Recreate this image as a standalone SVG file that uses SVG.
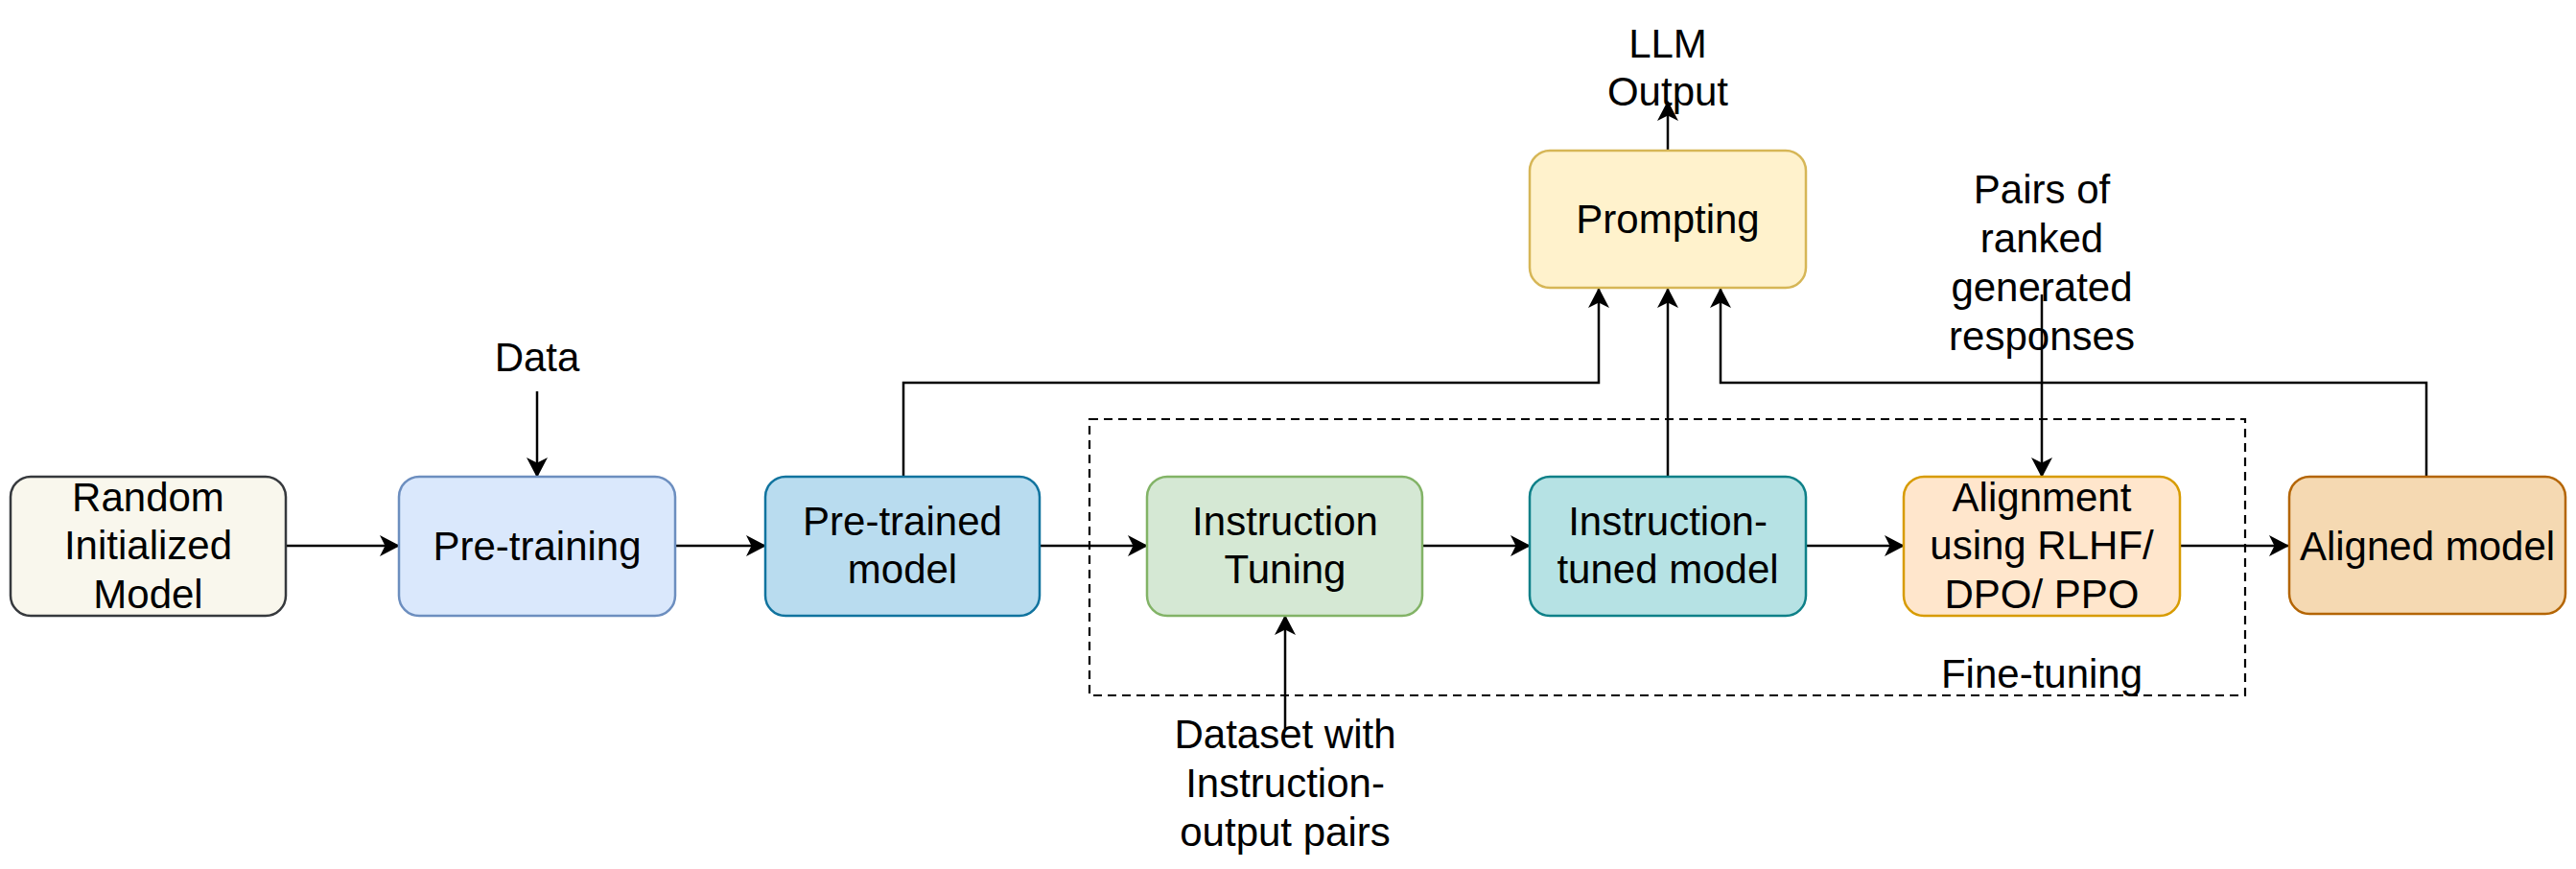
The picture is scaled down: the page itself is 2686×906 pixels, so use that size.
<svg xmlns="http://www.w3.org/2000/svg" width="2686" height="906" viewBox="0 0 2686 906">
<style>
text{font-family:"Liberation Sans",Arial,Helvetica,sans-serif;font-size:42px;fill:#000;text-anchor:middle}
.box{stroke-width:2.5}
.c{fill:none;stroke:#000;stroke-width:2.5}
</style>
<defs>
<marker id="ah" markerUnits="userSpaceOnUse" markerWidth="22" markerHeight="24" viewBox="0 0 22 24" refX="20" refY="12" orient="auto">
<path d="M0,1 L21,12 L0,23 L5.5,12 Z" fill="#000"/>
</marker>
</defs>
<rect x="0" y="0" width="2686" height="906" fill="#fff"/>
<g id="finetuning">
<rect x="1136" y="437" width="1205" height="288" fill="none" stroke="#000" stroke-width="2.2" stroke-dasharray="9 6"/>
<text x="2129" y="717">Fine-tuning</text>
</g>
<g id="connectors">
<line class="c" x1="298" y1="569" x2="416" y2="569" marker-end="url(#ah)"/>
<line class="c" x1="704" y1="569" x2="798" y2="569" marker-end="url(#ah)"/>
<line class="c" x1="1084" y1="569" x2="1196" y2="569" marker-end="url(#ah)"/>
<line class="c" x1="1483" y1="569" x2="1595" y2="569" marker-end="url(#ah)"/>
<line class="c" x1="1883" y1="569" x2="1985" y2="569" marker-end="url(#ah)"/>
<line class="c" x1="2273" y1="569" x2="2386" y2="569" marker-end="url(#ah)"/>
<line class="c" x1="560" y1="408" x2="560" y2="497" marker-end="url(#ah)"/>
<polyline class="c" points="942,497 942,399 1667,399 1667,301" marker-end="url(#ah)"/>
<line class="c" x1="1739" y1="497" x2="1739" y2="301" marker-end="url(#ah)"/>
<polyline class="c" points="2530,497 2530,399 1794,399 1794,301" marker-end="url(#ah)"/>
<line class="c" x1="1739" y1="157" x2="1739" y2="106" marker-end="url(#ah)"/>
<line class="c" x1="2129" y1="307" x2="2129" y2="497" marker-end="url(#ah)"/>
<line class="c" x1="1340" y1="760" x2="1340" y2="642" marker-end="url(#ah)"/>
</g>
<g id="random">
<rect class="box" x="11" y="497" width="287" height="145" rx="21" fill="#f9f7ed" stroke="#36393d"/>
<text x="154.5" y="533">Random</text>
<text x="154.5" y="583">Initialized</text>
<text x="154.5" y="634">Model</text>
</g>
<g id="pretraining">
<rect class="box" x="416" y="497" width="288" height="145" rx="21" fill="#dae8fc" stroke="#6c8ebf"/>
<text x="560" y="584">Pre-training</text>
</g>
<g id="pretrained">
<rect class="box" x="798" y="497" width="286" height="145" rx="21" fill="#b9dcef" stroke="#10739e"/>
<text x="941" y="558">Pre-trained</text>
<text x="941" y="608">model</text>
</g>
<g id="instruction-tuning">
<rect class="box" x="1196" y="497" width="287" height="145" rx="21" fill="#d5e8d4" stroke="#82b366"/>
<text x="1340" y="558">Instruction</text>
<text x="1340" y="608">Tuning</text>
</g>
<g id="instruction-tuned">
<rect class="box" x="1595" y="497" width="288" height="145" rx="21" fill="#b6e2e4" stroke="#0e8088"/>
<text x="1739" y="558">Instruction-</text>
<text x="1739" y="608">tuned model</text>
</g>
<g id="alignment">
<rect class="box" x="1985" y="497" width="288" height="145" rx="21" fill="#ffe6cc" stroke="#d79b00"/>
<text x="2129" y="533">Alignment</text>
<text x="2129" y="583">using RLHF/</text>
<text x="2129" y="634">DPO/ PPO</text>
</g>
<g id="aligned">
<rect class="box" x="2387" y="497" width="288" height="143" rx="21" fill="#f5d9b2" stroke="#b46504"/>
<text x="2531" y="584">Aligned model</text>
</g>
<g id="prompting">
<rect class="box" x="1595" y="157" width="288" height="143" rx="21" fill="#fff2cc" stroke="#d6b656"/>
<text x="1739" y="243">Prompting</text>
</g>
<g id="data">
<text x="560" y="387">Data</text>
</g>
<g id="llm-output">
<text x="1739" y="60">LLM</text>
<text x="1739" y="110">Output</text>
</g>
<g id="pairs">
<text x="2129" y="212">Pairs of</text>
<text x="2129" y="263">ranked</text>
<text x="2129" y="314">generated</text>
<text x="2129" y="365">responses</text>
</g>
<g id="dataset">
<text x="1340" y="780">Dataset with</text>
<text x="1340" y="831">Instruction-</text>
<text x="1340" y="882">output pairs</text>
</g>
</svg>
